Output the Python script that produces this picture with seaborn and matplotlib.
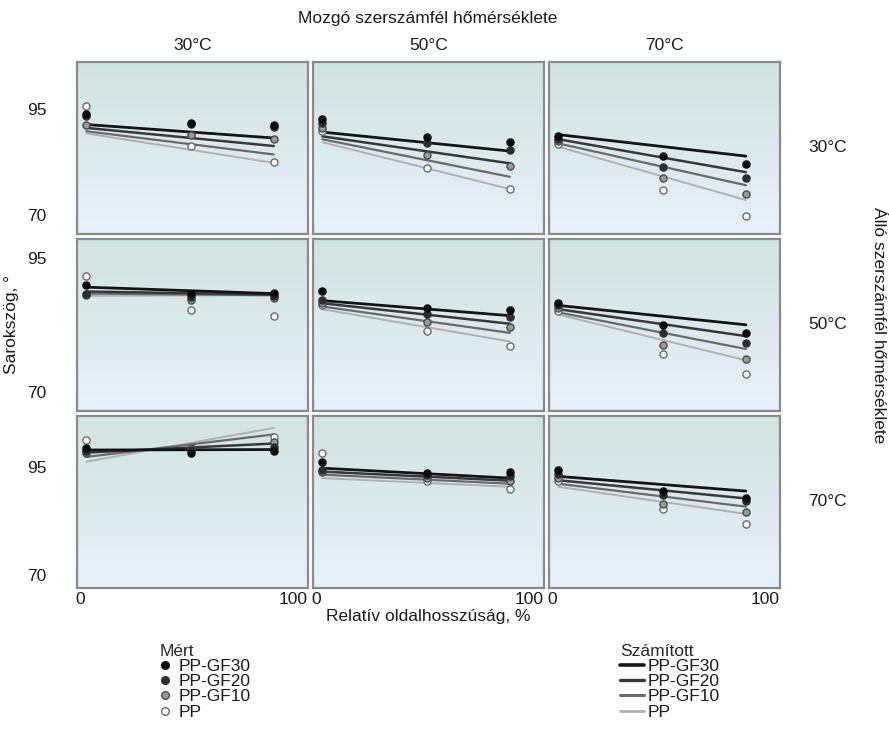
import numpy as np
import pandas as pd
import matplotlib
matplotlib.use("Agg")
import matplotlib.pyplot as plt
import seaborn as sns
from matplotlib.lines import Line2D
from matplotlib.colors import LinearSegmentedColormap

sns.set_theme(style="white")
plt.rcParams['font.family'] = ['Liberation Sans', 'DejaVu Sans']
plt.rcParams['font.size'] = 12.5

# ---------------- data ----------------
materials = ["PP-GF30", "PP-GF20", "PP-GF10", "PP"]
col_temps = ["30°C", "50°C", "70°C"]   # Mozgó szerszámfél hőmérséklete
row_temps = ["30°C", "50°C", "70°C"]   # Álló szerszámfél hőmérséklete
x_meas = [3, 52, 91]
x_line = [3, 91]

# measured values, 9 panels row-major (row = Álló, col = Mozgó), 3 points each
gf30_meas = [[93.8, 91.8, 91.2], [92.6, 88.4, 87.2], [88.6, 83.9, 82.1],
             [89.9, 88.3, 88.5], [88.7, 85.7, 85.2], [86.5, 82.5, 81.0],
             [99.3, 98.3, 98.7], [96.2, 93.6, 93.7], [94.3, 89.5, 87.9]]
gf20_meas = [[93.3, 91.5, 90.9], [91.7, 86.9, 85.3], [88.0, 81.3, 78.6],
             [88.3, 87.6, 87.8], [87.2, 84.5, 83.9], [86.1, 80.9, 79.1],
             [98.6, 98.9, 99.6], [94.3, 93.2, 92.8], [93.4, 88.4, 87.1]]
gf10_meas = [[91.2, 88.8, 88.0], [90.5, 84.1, 81.6], [87.5, 78.8, 74.9],
             [88.0, 87.2, 87.5], [86.5, 83.1, 82.1], [85.6, 78.8, 76.2],
             [98.2, 99.3, 100.8], [93.9, 92.4, 91.7], [92.5, 86.5, 84.5]]
pp_meas = [[95.9, 86.3, 82.5], [89.8, 81.2, 76.2], [86.7, 75.8, 69.7],
           [91.6, 85.3, 84.1], [86.2, 81.4, 78.6], [85.0, 77.0, 73.4],
           [101.3, 99.6, 102.0], [98.1, 91.7, 89.8], [91.7, 85.2, 81.8]]

# computed (fitted) lines: start / end values
gf30_calc = [[91.4, 88.2], [89.6, 85.1], [89.0, 83.9],
             [89.5, 88.3], [87.0, 84.2], [86.1, 82.5],
             [98.9, 99.0], [94.7, 92.4], [92.8, 89.4]]
gf20_calc = [[90.6, 86.3], [88.6, 82.2], [87.9, 80.1],
             [88.7, 88.1], [86.5, 82.7], [85.4, 80.4],
             [98.3, 100.4], [93.9, 91.8], [91.9, 87.7]]
gf10_calc = [[89.8, 84.3], [87.9, 79.0], [86.9, 77.0],
             [88.3, 88.0], [85.9, 81.0], [84.8, 78.0],
             [97.3, 102.5], [93.2, 91.1], [91.1, 85.8]]
pp_calc = [[89.3, 82.3], [87.2, 76.1], [86.1, 73.5],
           [87.9, 88.0], [85.4, 79.4], [84.4, 75.9],
           [96.2, 104.0], [92.4, 90.4], [90.4, 84.1]]

y_ticks = [70, 95]
x_ticks = [0, 100]

meas_all = dict(zip(materials, [gf30_meas, gf20_meas, gf10_meas, pp_meas]))
calc_all = dict(zip(materials, [gf30_calc, gf20_calc, gf10_calc, pp_calc]))

rows_m, rows_c = [], []
for m in materials:
    for p in range(9):
        r, c = divmod(p, 3)
        for xv, yv in zip(x_meas, meas_all[m][p]):
            rows_m.append(dict(row=r, col=c, material=m, x=xv, y=yv))
        for xv, yv in zip(x_line, calc_all[m][p]):
            rows_c.append(dict(row=r, col=c, material=m, x=xv, y=yv))
df_meas = pd.DataFrame(rows_m)
df_calc = pd.DataFrame(rows_c)

# ---------------- styles ----------------
face = {"PP-GF30": "#0a0a0a", "PP-GF20": "#2e2e2e", "PP-GF10": "#9a9a9a", "PP": "#ffffff"}
edge = {"PP-GF30": "#0a0a0a", "PP-GF20": "#2e2e2e", "PP-GF10": "#4a4a4a", "PP": "#6a6a6a"}
lcol = {"PP-GF30": "#141414", "PP-GF20": "#383838", "PP-GF10": "#6a6a6a", "PP": "#b0b0b0"}
lw = {"PP-GF30": 2.0, "PP-GF20": 1.8, "PP-GF10": 1.6, "PP": 1.4}
row_ylim = [(65.5, 106.3), (66.5, 98.5), (67.0, 106.8)]
xlim = (-1.5, 107)

fig, axes = plt.subplots(3, 3, figsize=(8.89, 7.34), dpi=100)
fig.subplots_adjust(left=0.0863, right=0.8774, top=0.916, bottom=0.199,
                    wspace=0.0216, hspace=0.029)

bg = LinearSegmentedColormap.from_list("bg", ["#d1e3df", "#e7f0fa"])
grad = np.linspace(0, 1, 256).reshape(-1, 1)

for r in range(3):
    for c in range(3):
        ax = axes[r, c]
        ax.imshow(grad, cmap=bg, aspect="auto", extent=[0, 1, 0, 1],
                  transform=ax.transAxes, zorder=0, interpolation="bilinear")
        sub_c = df_calc[(df_calc.row == r) & (df_calc.col == c)]
        sub_m = df_meas[(df_meas.row == r) & (df_meas.col == c)]
        for m in materials[::-1]:
            sns.lineplot(data=sub_c[sub_c.material == m], x="x", y="y", ax=ax,
                         color=lcol[m], linewidth=lw[m], zorder=2, legend=False)
        for m in materials[::-1]:
            sns.scatterplot(data=sub_m[sub_m.material == m], x="x", y="y", ax=ax,
                            color=face[m], edgecolor=edge[m], linewidth=1.0,
                            s=26, zorder=3, legend=False)
        ax.set_xlim(*xlim)
        ax.set_ylim(*row_ylim[r])
        ax.set_xlabel("")
        ax.set_ylabel("")
        ax.set_xticks(x_ticks)
        ax.set_yticks(y_ticks)
        ax.tick_params(length=0, labelsize=12.5, colors="#1a1a1a")
        ax.tick_params(axis="y", pad=22)
        ax.tick_params(axis="x", pad=3)
        if r < 2:
            ax.set_xticklabels([])
        if c > 0:
            ax.set_yticklabels([])
        for s in ax.spines.values():
            s.set_color("#8a8a8a")
            s.set_linewidth(1.6)
        ax.grid(False)

W, H = 889, 734
def fx(px): return px / W
def fy(py): return 1 - py / H

fig.text(fx(428), fy(18), "Mozgó szerszámfél hőmérséklete", ha="center", va="center", fontsize=12.5, color="#1a1a1a")
for c, t in enumerate(col_temps):
    pos = axes[0, c].get_position()
    fig.text((pos.x0 + pos.x1) / 2, fy(45), t, ha="center", va="center", fontsize=12.5, color="#1a1a1a")
for r, t in enumerate(row_temps):
    pos = axes[r, 2].get_position()
    fig.text(fx(808), (pos.y0 + pos.y1) / 2, t, ha="left", va="center", fontsize=12.5, color="#1a1a1a")
fig.text(fx(878), fy(325), "Álló szerszámfél hőmérséklete", ha="center", va="center", rotation=270, fontsize=12.5, color="#1a1a1a")
fig.text(fx(12), fy(325), "Sarokszög, °", ha="center", va="center", rotation=90, fontsize=12.5, color="#1a1a1a")
fig.text(fx(428), fy(617), "Relatív oldalhosszúság, %", ha="center", va="center", fontsize=12.5, color="#1a1a1a")

# legends
mh = [Line2D([], [], linestyle="none", marker="o", markersize=5.5,
             markerfacecolor=face[m], markeredgecolor=edge[m], markeredgewidth=1.0) for m in materials]
leg1 = fig.legend(mh, materials, title="Mért", loc="upper left",
                  bbox_to_anchor=(fx(160), fy(644)), frameon=False, fontsize=12.5,
                  title_fontsize=12.5, handlelength=0.6, handletextpad=0.45,
                  labelspacing=0.0, borderpad=0, borderaxespad=0, alignment="left")
lh = [Line2D([], [], color=lcol[m], linewidth=lw[m] + 0.6) for m in materials]
leg2 = fig.legend(lh, materials, title="Számított", loc="upper left",
                  bbox_to_anchor=(fx(620), fy(644)), frameon=False, fontsize=12.5,
                  title_fontsize=12.5, handlelength=1.4, handletextpad=0.2,
                  labelspacing=0.0, borderpad=0, borderaxespad=0, alignment="left")
for leg in (leg1, leg2):
    for t in leg.get_texts():
        t.set_color("#1a1a1a")

fig.savefig("out.png", dpi=100)
